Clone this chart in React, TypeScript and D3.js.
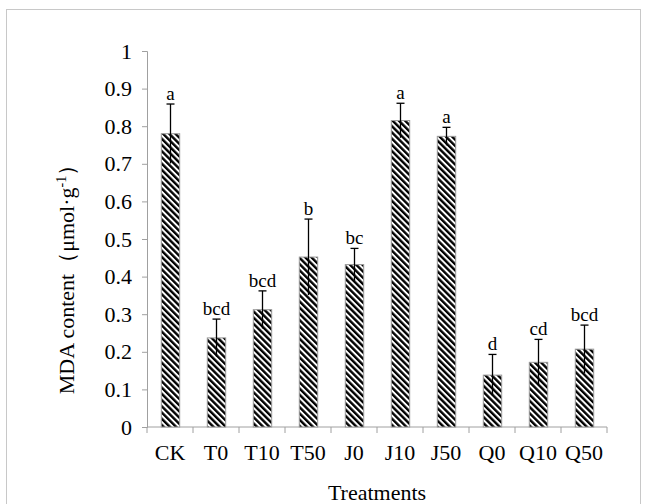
import * as d3 from 'd3';
import React, { useRef, useEffect } from 'react';

const categories = ['CK', 'T0', 'T10', 'T50', 'J0', 'J10', 'J50', 'Q0', 'Q10', 'Q50'];
const means = [0.78, 0.237, 0.312, 0.452, 0.432, 0.815, 0.773, 0.138, 0.172, 0.207];
const errors = [0.079, 0.05, 0.05, 0.101, 0.043, 0.046, 0.024, 0.055, 0.061, 0.064];
const letters = ['a', 'bcd', 'bcd', 'b', 'bc', 'a', 'a', 'd', 'cd', 'bcd'];
const yTicks = [0, 0.1, 0.2, 0.3, 0.4, 0.5, 0.6, 0.7, 0.8, 0.9, 1];

const W = 645, H = 504;
const margin = { top: 51, right: 38, bottom: 77, left: 147 };
const FONT = '"Liberation Serif", "Times New Roman", serif';

function App() {
    const ref = useRef<SVGSVGElement>(null);

    useEffect(() => {
        const svg = d3.select(ref.current);
        svg.selectAll('*').remove();

        const innerW = W - margin.left - margin.right;
        const innerH = H - margin.top - margin.bottom;

        // hatch pattern for the bars
        const defs = svg.append('defs');
        const pat = defs.append('pattern')
            .attr('id', 'hatch')
            .attr('patternUnits', 'userSpaceOnUse')
            .attr('width', 4.4)
            .attr('height', 4.4)
            .attr('patternTransform', 'rotate(-45)');
        pat.append('rect').attr('width', 4.4).attr('height', 4.4).attr('fill', '#fff');
        pat.append('rect').attr('width', 2.4).attr('height', 4.4).attr('fill', '#000');

        // outer frame
        svg.append('rect')
            .attr('x', 6.5).attr('y', 9.5)
            .attr('width', 634).attr('height', 520)
            .attr('fill', 'none')
            .attr('stroke', '#c8c8c8')
            .attr('stroke-width', 1);

        const g = svg.append('g').attr('transform', `translate(${margin.left},${margin.top})`);

        const x = d3.scaleBand().domain(categories).range([0, innerW]).paddingInner(0.6).paddingOuter(0.3);
        const xb = d3.scaleBand().domain(categories).range([0, innerW]);
        const y = d3.scaleLinear().domain([0, 1]).range([innerH, 0]);

        // y axis
        const yAxis = g.append('g')
            .call(d3.axisLeft(y).tickValues(yTicks).tickSize(5).tickPadding(10).tickFormat(d3.format('~g')));
        yAxis.attr('font-family', FONT);
        yAxis.select('.domain').attr('stroke', '#a0a0a0');
        yAxis.selectAll('.tick line').attr('stroke', '#a0a0a0');
        yAxis.selectAll('text').attr('font-family', FONT).attr('font-size', 22).attr('fill', '#000');

        // x axis
        const xAxis = g.append('g').attr('transform', `translate(0,${innerH})`);
        xAxis.append('line').attr('x1', 0).attr('x2', innerW).attr('stroke', '#a0a0a0');
        const bounds = categories.map(c => xb(c)!).concat([innerW]);
        xAxis.selectAll('.xt').data(bounds).enter().append('line')
            .attr('x1', d => d).attr('x2', d => d).attr('y1', 0).attr('y2', 6)
            .attr('stroke', '#a0a0a0');
        xAxis.selectAll('.xl').data(categories).enter().append('text')
            .attr('x', d => xb(d)! + xb.bandwidth() / 2)
            .attr('y', 33)
            .attr('text-anchor', 'middle')
            .attr('font-family', FONT).attr('font-size', 22)
            .text(d => d);

        // bars
        g.selectAll('.bar').data(categories).enter().append('rect')
            .attr('x', d => x(d)! + 0.5)
            .attr('y', (d, i) => y(means[i]))
            .attr('width', x.bandwidth())
            .attr('height', (d, i) => innerH - y(means[i]))
            .attr('fill', 'url(#hatch)')
            .attr('stroke', '#9a9a9a')
            .attr('stroke-width', 1);

        // error bars (cap on top only)
        const cx = (d: string) => x(d)! + x.bandwidth() / 2 + 0.5;
        g.selectAll('.err').data(categories).enter().append('line')
            .attr('x1', cx).attr('x2', cx)
            .attr('y1', (d, i) => y(means[i] + errors[i]))
            .attr('y2', (d, i) => y(means[i] - errors[i]))
            .attr('stroke', '#000').attr('stroke-width', 1.3);
        g.selectAll('.cap').data(categories).enter().append('line')
            .attr('x1', d => cx(d) - 4).attr('x2', d => cx(d) + 4)
            .attr('y1', (d, i) => y(means[i] + errors[i]))
            .attr('y2', (d, i) => y(means[i] + errors[i]))
            .attr('stroke', '#000').attr('stroke-width', 1.3);

        // significance letters
        g.selectAll('.let').data(categories).enter().append('text')
            .attr('x', cx)
            .attr('y', (d, i) => y(means[i] + errors[i]) - 4)
            .attr('text-anchor', 'middle')
            .attr('font-family', FONT).attr('font-size', 19)
            .text((d, i) => letters[i]);

        // axis titles
        svg.append('text')
            .attr('x', margin.left + innerW / 2)
            .attr('y', 500)
            .attr('text-anchor', 'middle')
            .attr('font-family', FONT).attr('font-size', 22)
            .text('Treatments');

        const yt = svg.append('text')
            .attr('transform', `translate(74,274) rotate(-90)`)
            .attr('text-anchor', 'middle')
            .attr('font-family', FONT).attr('font-size', 22);
        yt.append('tspan').text('MDA content（μmol·g');
        yt.append('tspan').attr('dy', -8).attr('font-size', 14).text('-1');
        yt.append('tspan').attr('dy', 8).text('）');
    }, []);

    return (
        <div className="chart" style={{ position: 'absolute', left: 0, top: 0 }}>
            <svg ref={ref} width={W} height={H} style={{ display: 'block', background: '#fff' }}></svg>
        </div>
    );
}

export default App;
